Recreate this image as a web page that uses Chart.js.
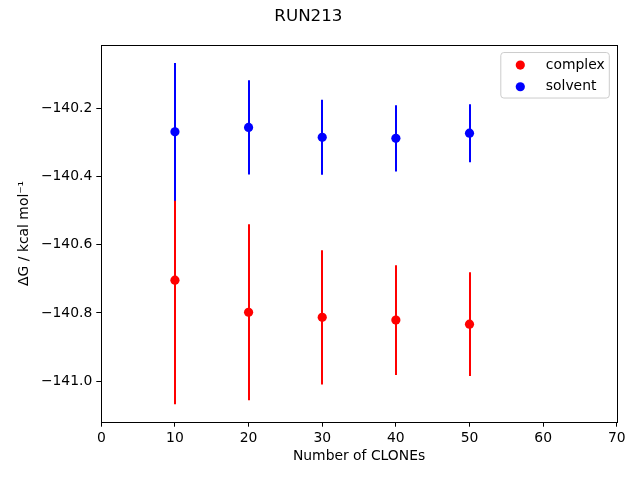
<!DOCTYPE html>
<html>
<head>
<meta charset="utf-8">
<script src="https://cdn.jsdelivr.net/npm/chart.js@4/dist/chart.umd.min.js"></script>
<style>
  html, body { margin: 0; padding: 0; background: #fff; }
  #wrap { width: 640px; height: 480px; }
</style>
</head>
<body>
<div id="wrap"><canvas id="chart" width="640" height="480"></canvas></div>
<script>
// Dados
const clones = [10, 20, 30, 40, 50];
const complexMean = [-140.704, -140.798, -140.813, -140.821, -140.833];
const complexErr = [0.364, 0.258, 0.197, 0.161, 0.152];
const solventMean = [-140.269, -140.256, -140.285, -140.288, -140.273];
const solventErr = [0.202, 0.138, 0.110, 0.097, 0.085];
const xTicks = [0, 10, 20, 30, 40, 50, 60, 70];
const yTicks = [-141.0, -140.8, -140.6, -140.4, -140.2];

const FONT = 'DejaVu Sans';

function toPoints(xs, ys) {
  return xs.map((x, i) => ({ x: x, y: ys[i] }));
}

// Barras de erro desenhadas antes dos marcadores
const errorBars = {
  id: 'errorBars',
  beforeDatasetsDraw(chart) {
    const { ctx, scales } = chart;
    ctx.save();
    ctx.lineWidth = 2;
    chart.data.datasets.forEach(ds => {
      ctx.strokeStyle = ds.backgroundColor;
      ds.data.forEach((p, i) => {
        const px = Math.round(scales.x.getPixelForValue(p.x));
        ctx.beginPath();
        ctx.moveTo(px, scales.y.getPixelForValue(p.y + ds.errors[i]));
        ctx.lineTo(px, scales.y.getPixelForValue(p.y - ds.errors[i]));
        ctx.stroke();
      });
    });
    ctx.restore();
  }
};

// Moldura e legenda no estilo matplotlib
const frameLegend = {
  id: 'frameLegend',
  afterDraw(chart) {
    const { ctx, chartArea: a } = chart;
    ctx.save();
    ctx.strokeStyle = '#000';
    ctx.lineWidth = 1;
    ctx.strokeRect(Math.round(a.left) + 0.5, Math.round(a.top) + 0.5,
      Math.round(a.right - a.left), Math.round(a.bottom - a.top));

    const bx = a.right - 116, by = a.top + 7.5, bw = 108.5, bh = 45.5;
    ctx.fillStyle = 'rgba(255,255,255,0.8)';
    ctx.strokeStyle = '#cccccc';
    ctx.beginPath();
    ctx.roundRect(bx, by, bw, bh, 3);
    ctx.fill();
    ctx.stroke();

    ctx.font = '13.9px "' + FONT + '"';
    ctx.textBaseline = 'middle';
    chart.data.datasets.forEach((ds, i) => {
      const cy = by + 12.5 + i * 21.7;
      ctx.fillStyle = ds.backgroundColor;
      ctx.beginPath();
      ctx.arc(bx + 19.5, cy, 4.6, 0, Math.PI * 2);
      ctx.fill();
      ctx.fillStyle = '#000';
      ctx.fillText(ds.label, bx + 45, cy);
    });
    ctx.restore();
  }
};

new Chart(document.getElementById('chart'), {
  type: 'scatter',
  data: {
    datasets: [
      {
        label: 'complex',
        data: toPoints(clones, complexMean),
        errors: complexErr,
        backgroundColor: 'red',
        borderColor: 'red',
        pointRadius: 4.6,
        pointBorderWidth: 0,
      },
      {
        label: 'solvent',
        data: toPoints(clones, solventMean),
        errors: solventErr,
        backgroundColor: 'blue',
        borderColor: 'blue',
        pointRadius: 4.6,
        pointBorderWidth: 0,
      },
    ],
  },
  options: {
    responsive: false,
    animation: false,
    events: [],
    layout: { padding: { left: 0, right: 23.2, top: 0, bottom: 0 } },
    plugins: {
      legend: { display: false },
      tooltip: { enabled: false },
      title: {
        display: true,
        text: 'RUN213',
        color: '#000',
        font: { family: FONT, size: 16.7, weight: 'normal', lineHeight: 1.2 },
        padding: { top: 7, bottom: 18 },
      },
    },
    scales: {
      x: {
        type: 'linear',
        min: 0,
        max: 70,
        afterBuildTicks: s => { s.ticks = xTicks.map(v => ({ value: v })); },
        afterFit: s => { s.height = 58.3; },
        grid: { drawOnChartArea: false, drawTicks: true, tickLength: 5, color: '#000' },
        border: { display: false },
        ticks: {
          color: '#000',
          padding: 3,
          maxRotation: 0,
          font: { family: FONT, size: 13.9 },
        },
        title: {
          display: true,
          text: 'Number of CLONEs',
          color: '#000',
          font: { family: FONT, size: 13.9 },
          padding: { top: 15, bottom: 15 },
        },
      },
      y: {
        type: 'linear',
        min: -141.119,
        max: -140.0144,
        afterBuildTicks: s => { s.ticks = yTicks.map(v => ({ value: v })); },
        afterFit: s => { s.width = 101.3; },
        grid: { drawOnChartArea: false, drawTicks: true, tickLength: 5, color: '#000' },
        border: { display: false },
        ticks: {
          color: '#000',
          padding: 4,
          font: { family: FONT, size: 13.9 },
          callback: v => (v < 0 ? '\u2212' : '') + Math.abs(v).toFixed(1),
        },
        title: {
          display: true,
          text: '\u0394G / kcal mol\u207B\u00B9',
          color: '#000',
          font: { family: FONT, size: 13.9 },
          padding: { top: 16, bottom: 16 },
        },
      },
    },
  },
  plugins: [errorBars, frameLegend],
});
</script>
</body>
</html>
